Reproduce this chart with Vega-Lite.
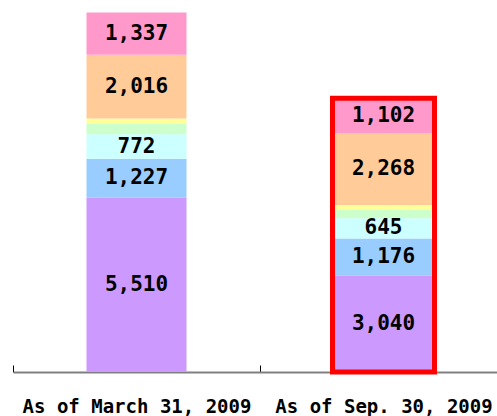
{
  "$schema": "https://vega.github.io/schema/vega-lite/v6.json",
  "width": 484,
  "height": 372,
  "autosize": {"type": "none"},
  "padding": {"left": 13, "top": 0, "right": 0, "bottom": 44},
  "background": "white",
  "config": {"view": {"stroke": null}},
  "data": {"values": [
    {"date": "As of March 31, 2009", "series": "s1", "order": 1, "value": 5510},
    {"date": "As of March 31, 2009", "series": "s2", "order": 2, "value": 1227},
    {"date": "As of March 31, 2009", "series": "s3", "order": 3, "value": 772},
    {"date": "As of March 31, 2009", "series": "s4", "order": 4, "value": 340},
    {"date": "As of March 31, 2009", "series": "s5", "order": 5, "value": 160},
    {"date": "As of March 31, 2009", "series": "s6", "order": 6, "value": 2016},
    {"date": "As of March 31, 2009", "series": "s7", "order": 7, "value": 1337},
    {"date": "As of Sep. 30, 2009", "series": "s1", "order": 1, "value": 3040},
    {"date": "As of Sep. 30, 2009", "series": "s2", "order": 2, "value": 1176},
    {"date": "As of Sep. 30, 2009", "series": "s3", "order": 3, "value": 645},
    {"date": "As of Sep. 30, 2009", "series": "s4", "order": 4, "value": 260},
    {"date": "As of Sep. 30, 2009", "series": "s5", "order": 5, "value": 160},
    {"date": "As of Sep. 30, 2009", "series": "s6", "order": 6, "value": 2268},
    {"date": "As of Sep. 30, 2009", "series": "s7", "order": 7, "value": 1102}
  ]},
  "encoding": {
    "x": {
      "field": "date", "type": "nominal", "sort": null,
      "scale": {"range": [0, 494], "paddingInner": 0, "paddingOuter": 0},
      "axis": {
        "title": null, "labelAngle": 0, "tickBand": "extent", "labelLimit": 0,
        "domainColor": "#808080", "domainWidth": 2,
        "tickColor": "#000000", "tickSize": -7, "tickWidth": 1,
        "labelFont": "DejaVu Sans Mono", "labelFontWeight": "bold",
        "labelFontSize": 19, "labelColor": "#000000", "labelPadding": 32,
        "grid": false
      }
    }
  },
  "layer": [
    {
      "mark": {"type": "bar", "size": 100},
      "encoding": {
        "y": {"aggregate": "sum", "field": "value", "type": "quantitative", "stack": "zero",
              "scale": {"domain": [0, 11755], "nice": false}, "axis": null},
        "color": {"field": "series", "type": "nominal", "legend": null,
                  "scale": {"domain": ["s1", "s2", "s3", "s4", "s5", "s6", "s7"],
                            "range": ["#CC99FF", "#99CCFF", "#CCFFFF", "#CCFFCC", "#FFFF99", "#FFCC99", "#FF99CC"]}},
        "order": {"field": "order", "type": "quantitative"}
      }
    },
    {
      "transform": [
        {"stack": "value", "groupby": ["date"], "sort": [{"field": "order"}], "as": ["v0", "v1"]},
        {"calculate": "(datum.v0 + datum.v1) / 2", "as": "mid"},
        {"filter": "datum.series != 's4' && datum.series != 's5'"}
      ],
      "mark": {"type": "text", "font": "DejaVu Sans Mono", "fontWeight": "bold", "fontSize": 21, "color": "#000000", "baseline": "middle", "align": "center"},
      "encoding": {
        "y": {"field": "mid", "type": "quantitative", "scale": {"domain": [0, 11755], "nice": false}, "axis": null},
        "text": {"field": "value", "type": "quantitative", "format": ","}
      }
    },
    {
      "transform": [{"filter": "datum.date == 'As of Sep. 30, 2009'"}],
      "mark": {"type": "bar", "size": 102, "filled": false, "stroke": "#FF0000", "strokeWidth": 5},
      "encoding": {
        "y": {"aggregate": "sum", "field": "value", "type": "quantitative", "scale": {"domain": [0, 11755], "nice": false}, "axis": null}
      }
    }
  ]
}
